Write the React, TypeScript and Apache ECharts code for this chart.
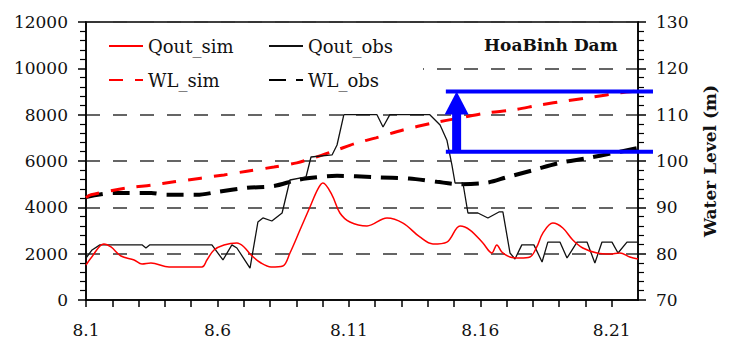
import React, { useEffect, useRef } from 'react';
import * as echarts from 'echarts';

const FONT = "'DejaVu Serif', serif";

// x = day offset from Aug 1 (0 -> 8.1, 20 -> 8.21)
const xLabelPrefix = '8.';

const qSimT = [0, 0.19, 0.68, 0.95, 1.33, 1.83, 2.13, 2.47, 3.16, 4.41, 4.6, 4.87, 5.25, 5.74, 6.01, 6.28, 6.66, 7.04, 7.49, 7.76, 8.14, 8.52, 8.82, 9.01, 9.36, 9.66, 10.04, 10.69, 11.45, 12.06, 12.7, 13.2, 13.73, 14.23, 14.61, 15.1, 15.44, 15.63, 15.82, 16.13, 16.51, 16.89, 17.15, 17.38, 17.76, 18.14, 18.52, 18.9, 19.44, 19.93, 20.31, 20.69, 21.0];
const qSimV = [1510, 1813, 2420, 2290, 1900, 1727, 1554, 1597, 1425, 1425, 1727, 2158, 2374, 2460, 2290, 1943, 1597, 1425, 1468, 2030, 3020, 4015, 4790, 5050, 4530, 3755, 3367, 3195, 3540, 3320, 2720, 2417, 2500, 3195, 3020, 2460, 2030, 2374, 2072, 1856, 1813, 1856, 2290, 2890, 3320, 3110, 2590, 2245, 2030, 1986, 2030, 1856, 1770];

const qObsT = [0, 0.23, 0.53, 2.13, 2.28, 2.43, 4.79, 5.21, 5.55, 5.74, 6.24, 6.54, 6.73, 7.07, 7.46, 7.76, 8.37, 8.56, 9.36, 9.55, 9.81, 11.07, 11.3, 11.56, 13.08, 13.47, 13.73, 13.92, 14.04, 14.34, 14.53, 14.91, 15.29, 15.71, 15.86, 16.13, 16.32, 16.58, 17.04, 17.35, 17.57, 18.03, 18.3, 18.68, 19.06, 19.36, 19.63, 20.01, 20.24, 20.58, 21.0];
const qObsV = [1813, 2160, 2380, 2380, 2245, 2380, 2380, 1727, 2380, 2245, 1380, 3367, 3540, 3410, 3755, 5180, 5310, 6173, 6260, 6690, 8000, 8000, 7470, 8000, 8000, 7555, 6900, 5830, 5050, 5050, 3755, 3755, 3540, 3800, 3800, 2030, 1770, 2380, 2380, 1640, 2500, 2500, 1813, 2500, 2500, 1600, 2500, 2500, 2030, 2500, 2500];

const wlSimT = [0, 0.19, 1.57, 2.48, 3.35, 4.37, 5.25, 6.12, 7.15, 8.02, 8.78, 9.55, 10.31, 11.03, 12.06, 13.2, 14.23, 15.25, 16.24, 17.27, 18.29, 19.28, 20.31, 21.0];
const wlSimV = [92.1, 92.7, 94.2, 94.8, 95.5, 96.3, 97.0, 97.8, 98.7, 99.6, 100.9, 102.4, 103.9, 105.0, 106.7, 108.2, 109.3, 110.4, 111.0, 112.1, 113.0, 113.8, 114.7, 115.1];

const wlObsT = [0, 1.07, 2.48, 3.08, 4.22, 4.98, 6.12, 7.15, 8.02, 8.78, 9.55, 11.0, 12.3, 13.35, 14.23, 15.25, 16.01, 17.0, 18.03, 19.06, 20.04, 21.0];
const wlObsV = [92.2, 93.1, 93.1, 92.7, 92.7, 93.3, 94.2, 94.6, 95.9, 96.5, 96.8, 96.5, 96.2, 95.5, 95.0, 95.3, 96.5, 98.0, 99.6, 100.6, 101.7, 102.8];

// blue annotation (water level range) in data units
const annotLevels = [102, 115];
const annotFromX = 13.69;
const annotToX = 21.57;
const annotArrowX = 14.1;

const zip = (t: number[], v: number[]) => t.map((x, i) => [x, v[i]]);

export default function App() {
  const ref = useRef<HTMLDivElement>(null);
  useEffect(() => {
    const chart = echarts.init(ref.current!, null, { renderer: 'svg' });
    const txt = { fontFamily: FONT, fontSize: 17, color: '#111' };
    const legendBase = {
      orient: 'vertical',
      top: 31,
      itemWidth: 34,
      itemHeight: 14,
      itemGap: 14,
      backgroundColor: '#fff',
      selectedMode: false,
      itemStyle: { opacity: 0 },
      textStyle: { ...txt, fontSize: 18, lineHeight: 20 },
    };
    chart.setOption({
      animation: false,
      backgroundColor: '#fff',
      textStyle: { fontFamily: FONT },
      title: {
        text: 'HoaBinh Dam',
        left: 484,
        top: 36,
        padding: 0,
        textStyle: { fontFamily: FONT, fontSize: 17, fontWeight: 'bold', color: '#111' },
      },
      legend: [
        { ...legendBase, data: ['Qout_sim', 'WL_sim'], left: 87, padding: [5, 31, 5, 21] },
        { ...legendBase, data: ['Qout_obs', 'WL_obs'], left: 263, padding: [5, 30, 5, 5] },
      ],
      grid: { left: 86, right: 94, top: 22, bottom: 45, show: true, borderColor: '#000', borderWidth: 1.5 },
      xAxis: {
        type: 'value',
        min: 0,
        max: 21,
        interval: 1,
        axisLine: { lineStyle: { color: '#000', width: 1.5 } },
        axisTick: { length: 7, lineStyle: { color: '#000', width: 1.5 } },
        axisLabel: {
          ...txt,
          margin: 21,
          showMaxLabel: false,
          formatter: (v: number) => (v % 5 === 0 ? xLabelPrefix + (v + 1) : ''),
        },
        splitLine: { show: false },
      },
      yAxis: [
        {
          type: 'value',
          min: 0,
          max: 12000,
          interval: 2000,
          position: 'left',
          axisLine: { show: true, lineStyle: { color: '#000', width: 1.5 } },
          axisTick: { show: true, length: 8, lineStyle: { color: '#000', width: 1.5 } },
          minorTick: { show: true, splitNumber: 5, length: 6, lineStyle: { color: '#000', width: 1.2 } },
          axisLabel: { ...txt, margin: 18, formatter: (v: number) => String(v) },
          splitLine: { show: true, lineStyle: { color: '#333', width: 1.5, type: [14, 13] } },
        },
        {
          type: 'value',
          min: 70,
          max: 130,
          interval: 10,
          position: 'right',
          name: 'Water Level (m)',
          nameLocation: 'middle',
          nameGap: 63,
          nameRotate: 90,
          nameTextStyle: { fontFamily: FONT, fontSize: 17, fontWeight: 'bold', color: '#111' },
          axisLine: { show: true, lineStyle: { color: '#000', width: 1.5 } },
          axisTick: { show: true, length: 8, lineStyle: { color: '#000', width: 1.5 } },
          minorTick: { show: true, splitNumber: 5, length: 6, lineStyle: { color: '#000', width: 1.2 } },
          axisLabel: { ...txt, margin: 18, formatter: (v: number) => String(v) },
          splitLine: { show: false },
        },
      ],
      series: [
        {
          name: 'WL_obs', type: 'line', yAxisIndex: 1, symbol: 'none', smooth: 0.3,
          data: zip(wlObsT, wlObsV),
          itemStyle: { color: '#000' },
          lineStyle: { color: '#000', width: 4, type: [17, 10] },
        },
        {
          name: 'WL_sim', type: 'line', yAxisIndex: 1, symbol: 'none', smooth: 0.3,
          data: zip(wlSimT, wlSimV),
          itemStyle: { color: '#ff0000' },
          lineStyle: { color: '#ff0000', width: 3, type: [14, 12] },
        },
        {
          name: 'Qout_obs', type: 'line', symbol: 'none',
          data: zip(qObsT, qObsV),
          itemStyle: { color: '#111' },
          lineStyle: { color: '#111', width: 1.3 },
        },
        {
          name: 'Qout_sim', type: 'line', symbol: 'none', smooth: 0.35,
          data: zip(qSimT, qSimV),
          itemStyle: { color: '#ff0000' },
          lineStyle: { color: '#ff0000', width: 1.5 },
        },
      ],
    });

    const px = (x: number, y: number) =>
      chart.convertToPixel({ xAxisIndex: 0, yAxisIndex: 1 }, [x, y]) as number[];
    const lo = px(annotFromX, annotLevels[0]);
    const loEnd = px(annotToX, annotLevels[0]);
    const hi = px(annotFromX, annotLevels[1]);
    const hiEnd = px(annotToX, annotLevels[1]);
    const ax = px(annotArrowX, annotLevels[0])[0];
    const headH = 23;
    const headW = 24;
    const shaftW = 9;
    const blue = '#0000ff';
    chart.setOption({
      graphic: [
        { type: 'line', z: 100, shape: { x1: lo[0], y1: lo[1], x2: loEnd[0], y2: loEnd[1] }, style: { stroke: blue, lineWidth: 4 } },
        { type: 'line', z: 100, shape: { x1: hi[0], y1: hi[1], x2: hiEnd[0], y2: hiEnd[1] }, style: { stroke: blue, lineWidth: 4 } },
        { type: 'rect', z: 100, shape: { x: ax - shaftW / 2, y: hi[1] + headH - 1, width: shaftW, height: lo[1] - hi[1] - headH + 1 }, style: { fill: blue } },
        { type: 'polygon', z: 100, shape: { points: [[ax, hi[1]], [ax - headW / 2, hi[1] + headH], [ax + headW / 2, hi[1] + headH]] }, style: { fill: blue } },
      ],
    });
    return () => chart.dispose();
  }, []);
  return (
    <div
      ref={ref}
      style={{ position: 'fixed', left: 0, top: 0, width: 732, height: 345, background: '#fff' }}
    />
  );
}
